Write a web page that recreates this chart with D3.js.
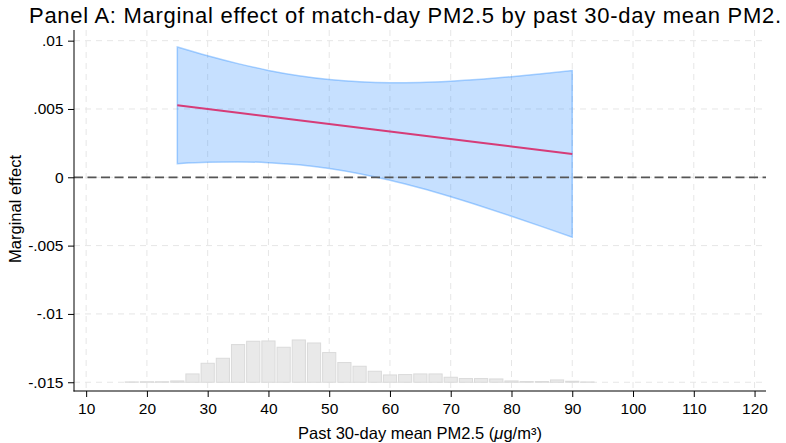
<!DOCTYPE html>
<html>
<head>
<meta charset="utf-8">
<script src="https://cdn.jsdelivr.net/npm/d3@7"></script>
<style>
  html, body { margin: 0; padding: 0; background: #fff; }
  svg { display: block; font-family: "Liberation Sans", Arial, Helvetica, sans-serif; }
</style>
</head>
<body>
<svg id="chart" width="786" height="443"></svg>
<script>
// Past 30-day mean PM2.5 values at which the marginal effect was evaluated
const evalPoints = [25, 30, 35, 40, 45, 50, 55, 60, 65, 70, 75, 80, 85, 90];
// Marginal effect of match-day PM2.5 and its 95% confidence limits
const effect = [0.00527, 0.004996, 0.004722, 0.004448, 0.004174, 0.0039, 0.003626, 0.003352, 0.003078, 0.002804, 0.00253, 0.002256, 0.001982, 0.001708];
const ciUpper = [0.00954, 0.008895, 0.008318, 0.007824, 0.007433, 0.007153, 0.006987, 0.006924, 0.006946, 0.007037, 0.00718, 0.007362, 0.007574, 0.007808];
const ciLower = [0.00100, 0.001097, 0.001126, 0.001072, 0.000915, 0.000647, 0.000265, -0.00022, -0.00079, -0.001429, -0.00212, -0.00285, -0.00361, -0.004392];

// Distribution of past 30-day mean PM2.5 (bin centres, percent of observations)
const binCenters = [17.5, 20, 22.5, 25, 27.5, 30, 32.5, 35, 37.5, 40, 42.5, 45, 47.5, 50, 52.5, 55, 57.5, 60, 62.5, 65, 67.5, 70, 72.5, 75, 77.5, 80, 82.5, 85, 87.5, 90, 92.5];
const binPercent = [0.08, 0.12, 0.12, 0.31, 1.98, 4.52, 5.71, 8.97, 9.76, 9.83, 8.33, 10.07, 9.35, 7.07, 4.69, 3.81, 2.62, 1.74, 1.83, 1.98, 1.98, 1.19, 0.88, 0.88, 0.79, 0.31, 0.17, 0.17, 0.55, 0.24, 0.07];
const binWidth = 2.5;

// Tick labels
const xTicks = [10, 20, 30, 40, 50, 60, 70, 80, 90, 100, 110, 120];
const yTicks = [0.01, 0.005, 0, -0.005, -0.01, -0.015];
const yTickLabels = [".01", ".005", "0", "-.005", "-.01", "-.015"];

const titleText = "Panel A: Marginal effect of match-day PM2.5 by past 30-day mean PM2.";
const yTitle = "Marginal effect";

const svg = d3.select("#chart");

const x = d3.scaleLinear().domain([8, 122]).range([74, 766.7]);
const y = d3.scaleLinear().domain([-0.01564, 0.01078]).range([391, 30]);
const histBase = y(-0.015);
const hy = d3.scaleLinear().domain([0, 10]).range([histBase, histBase - 42]);

// Grid lines
const grid = svg.append("g");
grid.selectAll("line.gx").data(xTicks).join("line")
  .attr("x1", d => x(d)).attr("x2", d => x(d))
  .attr("y1", 30).attr("y2", 391)
  .attr("stroke", "#e6e6e6").attr("stroke-width", 1).attr("stroke-dasharray", "6,5");
grid.selectAll("line.gy").data(yTicks).join("line")
  .attr("x1", 74).attr("x2", 766)
  .attr("y1", d => y(d)).attr("y2", d => y(d))
  .attr("stroke", "#e6e6e6").attr("stroke-width", 1).attr("stroke-dasharray", "6,5");

// Histogram of the moderator
svg.append("g").selectAll("rect").data(binCenters).join("rect")
  .attr("x", d => x(d - binWidth / 2) + 1)
  .attr("width", d => x(d + binWidth / 2) - x(d - binWidth / 2) - 2)
  .attr("y", (d, i) => hy(binPercent[i]))
  .attr("height", (d, i) => histBase - hy(binPercent[i]))
  .attr("fill", "#e9e9e9").attr("stroke", "#dadada").attr("stroke-width", 1);

// Confidence band
const bandData = evalPoints.map((v, i) => ({ v, lo: ciLower[i], hi: ciUpper[i] }));
const area = d3.area().x(d => x(d.v)).y0(d => y(d.lo)).y1(d => y(d.hi)).curve(d3.curveMonotoneX);
svg.append("path").datum(bandData)
  .attr("d", d => area(d) + "Z")
  .attr("fill", "rgba(26,133,255,0.25)")
  .attr("stroke", "rgba(26,133,255,0.35)").attr("stroke-width", 1.5);

// Marginal effect line
const line = d3.line().x(d => x(d.v)).y(d => y(d.m));
svg.append("path").datum(evalPoints.map((v, i) => ({ v, m: effect[i] })))
  .attr("d", line)
  .attr("fill", "none").attr("stroke", "rgb(214,60,120)").attr("stroke-width", 2);

// Zero reference line
svg.append("line")
  .attr("x1", 74).attr("x2", 766)
  .attr("y1", y(0)).attr("y2", y(0))
  .attr("stroke", "#555").attr("stroke-width", 1.8).attr("stroke-dasharray", "9,4.5");

// Axes
const xAxis = d3.axisBottom(x).tickValues(xTicks).tickSize(6).tickPadding(6).tickFormat(d3.format("d"));
const gx = svg.append("g").attr("transform", "translate(0,391)").call(xAxis);
gx.select(".domain").remove();
gx.selectAll("text").attr("font-size", 15.5).attr("fill", "#000").attr("font-family", "Liberation Sans, Arial, sans-serif");
gx.selectAll("line").attr("stroke", "#000");

const yAxis = d3.axisLeft(y).tickValues(yTicks).tickSize(6).tickPadding(4.5)
  .tickFormat((d, i) => yTickLabels[i]);
const gy = svg.append("g").attr("transform", "translate(74,0)").call(yAxis);
gy.select(".domain").remove();
gy.selectAll("text").attr("font-size", 15.5).attr("fill", "#000").attr("font-family", "Liberation Sans, Arial, sans-serif");
gy.selectAll("line").attr("stroke", "#000");

svg.append("line").attr("x1", 74).attr("x2", 74).attr("y1", 30).attr("y2", 391.5)
  .attr("stroke", "#000").attr("stroke-width", 1);
svg.append("line").attr("x1", 73.5).attr("x2", 766).attr("y1", 391).attr("y2", 391)
  .attr("stroke", "#000").attr("stroke-width", 1);

// Axis titles
const xt = svg.append("text")
  .attr("x", 420).attr("y", 439).attr("text-anchor", "middle")
  .attr("font-size", 16.5).attr("fill", "#000");
xt.append("tspan").text("Past 30-day mean PM2.5 (");
xt.append("tspan").attr("font-style", "italic").text("\u03BC");
xt.append("tspan").text("g/m\u00B3)");

svg.append("text")
  .attr("transform", "translate(21,209) rotate(-90)")
  .attr("text-anchor", "middle").attr("font-size", 16.5).attr("fill", "#000")
  .text(yTitle);

// Title
svg.append("text")
  .attr("x", 29).attr("y", 23)
  .attr("font-size", 22).attr("fill", "#000")
  .attr("textLength", 752).attr("lengthAdjust", "spacing")
  .text(titleText);
</script>
</body>
</html>
